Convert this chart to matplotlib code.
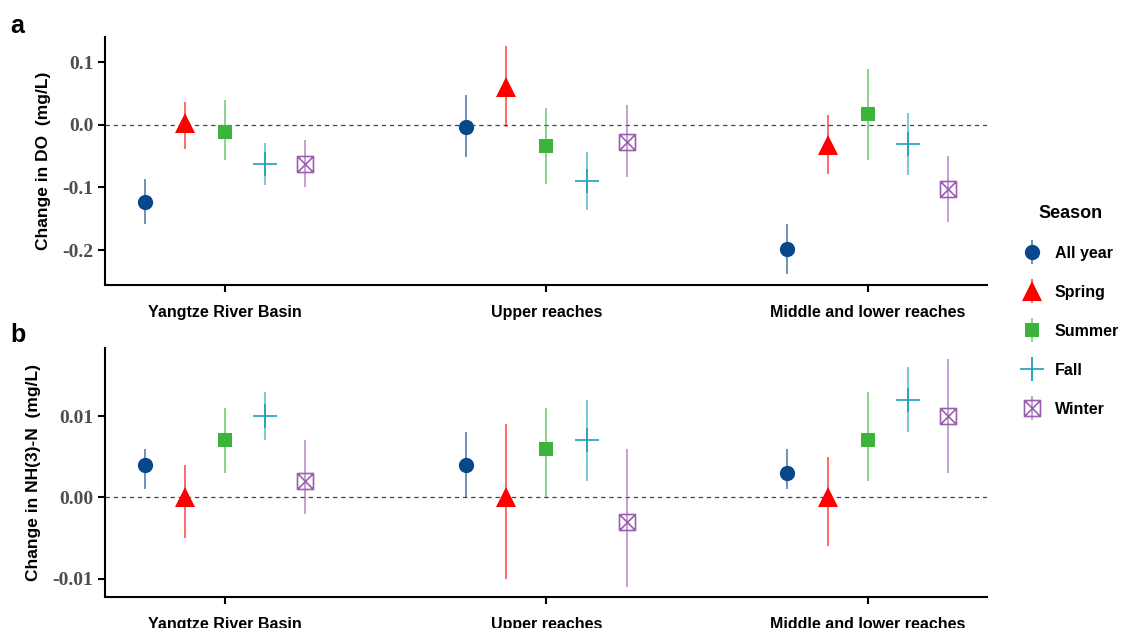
import matplotlib.pyplot as plt
from matplotlib.path import Path
from matplotlib.legend_handler import HandlerErrorbar
import numpy as np

# data
regions = ['Yangtze River Basin', 'Upper reaches', 'Middle and lower reaches']
seasons = ['All year', 'Spring', 'Summer', 'Fall', 'Winter']

# panel a : DO (mg/L), rows = season, cols = region
do_est = [[-0.123, -0.003, -0.199],
          [0.002, 0.061, -0.032],
          [-0.011, -0.034, 0.017],
          [-0.062, -0.090, -0.031],
          [-0.063, -0.027, -0.103]]
do_lo = [[-0.159, -0.051, -0.239],
         [-0.038, -0.003, -0.079],
         [-0.057, -0.094, -0.057],
         [-0.096, -0.136, -0.080],
         [-0.100, -0.083, -0.155]]
do_hi = [[-0.087, 0.048, -0.159],
         [0.037, 0.125, 0.015],
         [0.040, 0.026, 0.089],
         [-0.029, -0.044, 0.019],
         [-0.025, 0.031, -0.050]]

# panel b : NH3-N (mg/L)
nh_est = [[0.004, 0.004, 0.003],
          [0.000, 0.000, 0.000],
          [0.007, 0.006, 0.007],
          [0.010, 0.007, 0.012],
          [0.002, -0.003, 0.010]]
nh_lo = [[0.001, 0.000, 0.001],
         [-0.005, -0.010, -0.006],
         [0.003, 0.000, 0.002],
         [0.007, 0.002, 0.008],
         [-0.002, -0.011, 0.003]]
nh_hi = [[0.006, 0.008, 0.006],
         [0.004, 0.009, 0.005],
         [0.011, 0.011, 0.013],
         [0.013, 0.012, 0.016],
         [0.007, 0.006, 0.017]]

colors = ['#08478c', '#ff0000', '#3cb43c', '#1aa3b8', '#9b5fb0']

# square with a cross inside (ggplot shape 7)
box_x = Path([(-1, -1), (1, -1), (1, 1), (-1, 1), (-1, -1),
              (-1, -1), (1, 1), (-1, 1), (1, -1)],
             [Path.MOVETO, Path.LINETO, Path.LINETO, Path.LINETO, Path.CLOSEPOLY,
              Path.MOVETO, Path.LINETO, Path.MOVETO, Path.LINETO])

styles = [dict(marker='o', ms=11, mfc=colors[0], mec=colors[0], mew=0),
          dict(marker='^', ms=14, mfc=colors[1], mec=colors[1], mew=0),
          dict(marker='s', ms=10.5, mfc=colors[2], mec=colors[2], mew=0),
          dict(marker='+', ms=17, mfc='none', mec=colors[3], mew=1.2),
          dict(marker=box_x, ms=11.5, mfc='none', mec=colors[4], mew=1.2)]

x = np.arange(1, 4)
dodge = 0.125

fig = plt.figure(figsize=(11.23, 6.28), dpi=100)
ax_a = fig.add_axes([0.0935, 0.546, 0.785, 0.395])
ax_b = fig.add_axes([0.0935, 0.049, 0.785, 0.397])


def draw(ax, est, lo, hi):
    handles = []
    for i, s in enumerate(seasons):
        xs = x + (i - 2) * dodge
        e = np.array(est[i])
        yerr = [e - np.array(lo[i]), np.array(hi[i]) - e]
        h = ax.errorbar(xs, e, yerr=yerr, linestyle='none',
                        ecolor=colors[i], elinewidth=1.1, capsize=0, label=s,
                        zorder=3, **styles[i])
        for lc in h[2]:
            lc.set_alpha(0.75)
        handles.append(h)
    ax.axhline(0, color='#444444', lw=0.9, ls=(0, (3.5, 3)), zorder=1)
    ax.set_xlim(0.626, 3.37)
    ax.set_xticks(x)
    ax.set_xticklabels(regions, fontsize=11.5, fontweight='bold',
                       family='Liberation Sans')
    for sp in ['top', 'right']:
        ax.spines[sp].set_visible(False)
    for sp in ['left', 'bottom']:
        ax.spines[sp].set_linewidth(1.5)
    ax.tick_params(axis='both', width=1.5, length=5, color='black')
    ax.tick_params(axis='x', pad=9)
    return handles


handles = draw(ax_a, do_est, do_lo, do_hi)
ax_a.set_ylim(-0.256, 0.14)
ax_a.set_yticks([-0.2, -0.1, 0.0, 0.1])
ax_a.set_yticklabels(['-0.2', '-0.1', '0.0', '0.1'], family='Liberation Serif',
                     fontweight='bold', fontsize=14, color='#4d4d4d')
ax_a.set_ylabel('Change in DO  (mg/L)', fontsize=12.5, fontweight='bold',
                family='Liberation Sans', labelpad=8)

draw(ax_b, nh_est, nh_lo, nh_hi)
ax_b.set_ylim(-0.0123, 0.0184)
ax_b.set_yticks([-0.01, 0.0, 0.01])
ax_b.set_yticklabels(['-0.01', '0.00', '0.01'], family='Liberation Serif',
                     fontweight='bold', fontsize=14, color='#4d4d4d')
ax_b.set_ylabel('Change in NH(3)-N  (mg/L)', fontsize=12.5, fontweight='bold',
                family='Liberation Sans', labelpad=8)

fig.text(0.009, 0.948, 'a', fontsize=18, fontweight='bold', family='Liberation Sans')
fig.text(0.009, 0.455, 'b', fontsize=18, fontweight='bold', family='Liberation Sans')

leg = fig.legend(handles=handles, labels=seasons, loc='center left',
                 bbox_to_anchor=(0.905, 0.505), frameon=False,
                 title='Season', handletextpad=0.8, labelspacing=1.5,
                 handlelength=1.2, borderaxespad=0,
                 handler_map={type(handles[0]): HandlerErrorbar(xerr_size=0.75)},
                 prop={'family': 'Liberation Sans', 'weight': 'bold', 'size': 11.5})
leg.get_title().set_fontweight('bold')
leg.get_title().set_fontsize(13)
leg.get_title().set_family('Liberation Sans')
leg._legend_box.sep = 17

fig.savefig('out.png', dpi=100)
